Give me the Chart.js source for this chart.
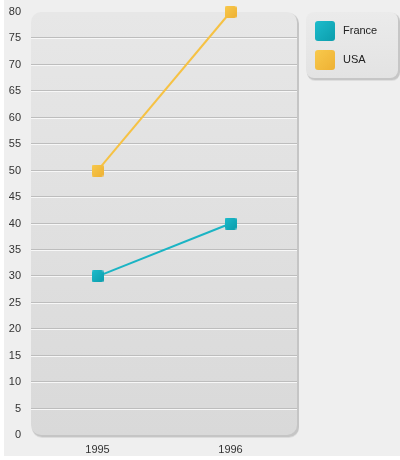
<!DOCTYPE html>
<html>
<head>
<meta charset="utf-8">
<script src="https://cdn.jsdelivr.net/npm/chart.js@4/dist/chart.umd.min.js"></script>
<style>
  html, body { margin: 0; padding: 0; background: #ffffff; }
  canvas { display: block; }
</style>
</head>
<body>
<canvas id="chart" width="400" height="460"></canvas>
<script>
// Categories and series values
const years = ['1995', '1996'];
const france = [30, 40];
const usa = [50, 80];
const seriesNames = ['France', 'USA'];

// Axis range
const yMin = 0;
const yMax = 80;
const yStep = 5;

const FONT = '"Liberation Sans", Arial, sans-serif';

const palette = {
  France: { line: '#1bb4c4', top: '#1dbccc', bottom: '#0c9dac' },
  USA:    { line: '#f6c244', top: '#f8c94c', bottom: '#eeb134' }
};

// Rounded gradient square used for markers and legend swatches
function swatch(size, c, radius) {
  const cv = document.createElement('canvas');
  cv.width = size; cv.height = size;
  const g = cv.getContext('2d');
  const grad = g.createLinearGradient(0, 0, size, size);
  grad.addColorStop(0, c.top);
  grad.addColorStop(1, c.bottom);
  g.fillStyle = grad;
  g.beginPath();
  g.roundRect(0, 0, size, size, radius);
  g.fill();
  return cv;
}

function roundRectPath(ctx, x, y, w, h, r) {
  ctx.beginPath();
  ctx.roundRect(x, y, w, h, r);
}

// Page backdrop, rounded plot panel and two-tone grid lines
const panelPlugin = {
  id: 'panel',
  beforeDraw(chart) {
    const { ctx, chartArea: a } = chart;
    ctx.save();
    ctx.fillStyle = '#efefef';
    ctx.fillRect(4, 0, 396, 456);

    // soft shadow
    ctx.fillStyle = 'rgba(0,0,0,0.10)';
    roundRectPath(ctx, a.left + 1, a.top + 1, a.right - a.left + 1, a.bottom - a.top + 1, 10);
    ctx.fill();
    ctx.fillStyle = 'rgba(0,0,0,0.08)';
    roundRectPath(ctx, a.left + 1, a.top + 2, a.right - a.left + 1, a.bottom - a.top + 1, 10);
    ctx.fill();

    const grad = ctx.createLinearGradient(0, a.top, 0, a.bottom);
    grad.addColorStop(0, '#e7e7e7');
    grad.addColorStop(1, '#d9d9d9');
    ctx.fillStyle = grad;
    roundRectPath(ctx, a.left, a.top, a.right - a.left, a.bottom - a.top, 10);
    ctx.fill();

    const ys = chart.scales.y;
    for (let v = yMin + yStep; v < yMax; v += yStep) {
      const py = Math.round(ys.getPixelForValue(v)) + 0.5;
      ctx.strokeStyle = '#bdbdbd';
      ctx.lineWidth = 1;
      ctx.beginPath();
      ctx.moveTo(a.left, py - 1);
      ctx.lineTo(a.right, py - 1);
      ctx.stroke();
      ctx.strokeStyle = '#f7f7f7';
      ctx.beginPath();
      ctx.moveTo(a.left, py);
      ctx.lineTo(a.right, py);
      ctx.stroke();
    }
    ctx.restore();
  }
};

// Legend panel on the right
const legendPlugin = {
  id: 'sideLegend',
  afterDraw(chart) {
    const { ctx } = chart;
    const x = 306, y = 12, w = 92, h = 66;
    ctx.save();
    ctx.fillStyle = 'rgba(0,0,0,0.10)';
    roundRectPath(ctx, x + 1, y + 1, w + 1, h + 1, 8);
    ctx.fill();
    ctx.fillStyle = 'rgba(0,0,0,0.07)';
    roundRectPath(ctx, x + 1, y + 2, w + 1, h + 1, 8);
    ctx.fill();
    const grad = ctx.createLinearGradient(0, y, 0, y + h);
    grad.addColorStop(0, '#ebebeb');
    grad.addColorStop(1, '#e3e3e3');
    ctx.fillStyle = grad;
    roundRectPath(ctx, x, y, w, h, 8);
    ctx.fill();

    ctx.font = '11px ' + FONT;
    ctx.fillStyle = '#222222';
    ctx.textBaseline = 'middle';
    ctx.textAlign = 'left';
    seriesNames.forEach((name, i) => {
      const sy = 21 + i * 29;
      ctx.drawImage(swatch(20, palette[name], 3), 315, sy);
      ctx.fillText(name, 343, sy + 10);
    });
    ctx.restore();
  }
};

const markers = {
  France: swatch(12, palette.France, 2),
  USA: swatch(12, palette.USA, 2)
};

function makeSet(name, values) {
  return {
    label: name,
    data: values,
    borderColor: palette[name].line,
    borderWidth: 2,
    pointStyle: markers[name],
    pointRadius: 6,
    pointHoverRadius: 6,
    tension: 0,
    clip: false
  };
}

new Chart(document.getElementById('chart'), {
  type: 'line',
  data: {
    labels: years,
    datasets: [makeSet('France', france), makeSet('USA', usa)]
  },
  plugins: [panelPlugin, legendPlugin],
  options: {
    responsive: false,
    animation: false,
    events: [],
    layout: { padding: { top: 12, right: 103, bottom: 0, left: 0 } },
    plugins: {
      legend: { display: false },
      tooltip: { enabled: false }
    },
    scales: {
      x: {
        offset: true,
        grid: { display: false, drawTicks: false },
        border: { display: false },
        ticks: { font: { family: FONT, size: 11 }, color: '#333333', padding: 8 },
        afterFit(scale) {
          scale.height = 25;
          scale.paddingLeft = 0;
          scale.paddingRight = 0;
        }
      },
      y: {
        min: yMin,
        max: yMax,
        grid: { display: false, drawTicks: false },
        border: { display: false },
        ticks: { stepSize: yStep, font: { family: FONT, size: 11 }, color: '#333333', padding: 10 },
        afterFit(scale) {
          scale.width = 31;
          scale.paddingTop = 0;
          scale.paddingBottom = 0;
        }
      }
    }
  }
});
</script>
</body>
</html>
